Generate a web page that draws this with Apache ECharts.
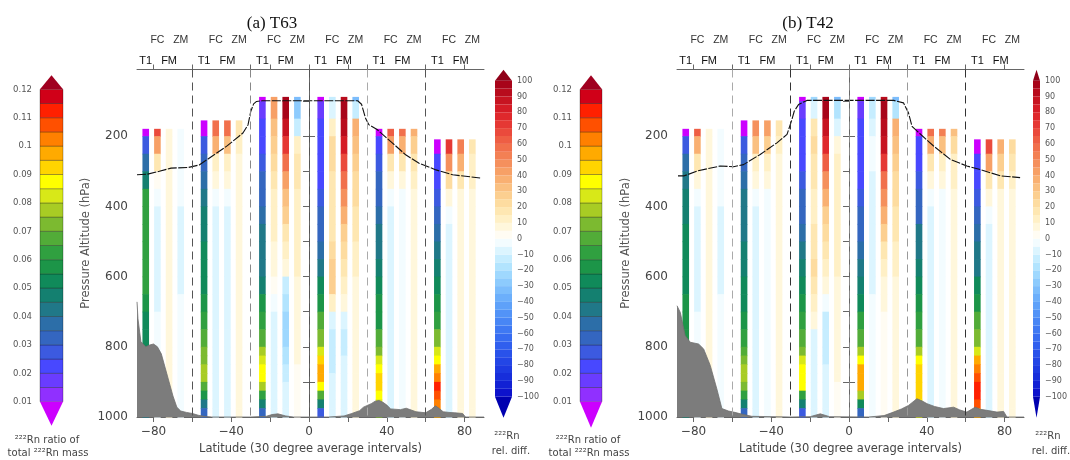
<!DOCTYPE html>
<html><head><meta charset="utf-8">
<script src="https://cdn.jsdelivr.net/npm/echarts@6/dist/echarts.min.js"></script>
<style>html,body{margin:0;padding:0;background:#fff}#c{width:1070px;height:460px}</style>
</head><body><div id="c"></div>
<script>
// ---------------- DATA ----------------
const BAND_STARTS = [-90, -60, -30, 0, 30, 60];          // 30-degree latitude bands
const COL_NAMES   = ['T1', 'FC', 'FM', 'ZM'];             // columns inside each band
const COL_OFFSETS = [6, 12, 18, 24];                      // column latitude offset from band start
const BAND_TOPS   = [179, 155, 88, 88, 179, 209];         // hPa, top of the columns in each band
const LEVEL_EDGES = [100,150,200,250,300,350,400,450,500,550,600,650,700,750,800,825,850,875,900,925,950,975,1000];
const Y_LABELS    = [200, 400, 600, 800, 1000];
const Y_TICKS     = [100,200,300,400,500,600,700,800,900,1000];
const LAT_LABELS  = [-80, -40, 0, 40, 80];
const LAT_TICKS   = [-80, -60, -40, -20, 0, 20, 40, 60, 80];
const TOP_TICKS   = [-80, -60, -30, -20, 0, 20, 30, 60, 80];
const RATIO_TICKS = [0.01,0.02,0.03,0.04,0.05,0.06,0.07,0.08,0.09,0.1,0.11,0.12];
const DIFF_TICKS  = [-100,-90,-80,-70,-60,-50,-40,-30,-20,-10,0,10,20,30,40,50,60,70,80,90,100];

// (a) T63 : 222Rn ratio of total mass (T1) and relative differences in % (FC, FM, ZM)
const A_T1 = [
 [0.008,0.026,0.038,0.047,0.061,0.062,0.062,0.062,0.061,0.061,0.058,0.054,0.052,0.051,0.050,0.049,0.048,0.047,0.046,0.045,0.044],
 [0.009,0.028,0.032,0.038,0.043,0.046,0.048,0.051,0.053,0.054,0.055,0.062,0.066,0.070,0.074,0.076,0.078,0.066,0.056,0.044,0.030],
 [0.009,0.018,0.022,0.023,0.026,0.030,0.032,0.036,0.040,0.042,0.044,0.048,0.055,0.062,0.068,0.076,0.082,0.087,0.086,0.076,0.064,0.048,0.030],
 [0.009,0.017,0.021,0.022,0.022,0.024,0.028,0.031,0.033,0.038,0.042,0.050,0.056,0.066,0.072,0.084,0.094,0.099,0.098,0.088,0.068,0.048,0.028],
 [0.008,0.022,0.026,0.031,0.033,0.036,0.041,0.043,0.047,0.050,0.055,0.059,0.068,0.074,0.082,0.086,0.092,0.094,0.087,0.080,0.070],
 [0.009,0.022,0.024,0.029,0.031,0.036,0.041,0.045,0.051,0.055,0.064,0.072,0.080,0.087,0.099,0.104,0.110,0.108,0.100,0.095]
];
const A_FC = [
 [65,40,15,4,-4,-6,-6,-7,-7,-6,-6,-5,-5,-5,-5,-4,-4,-4,-4,-4,-4],
 [58,35,14,5,-5,-8,-8,-8,-8,-8,-8,-8,-8,-8,-8,-8,-8,-8,-8,-8,-8],
 [40,42,32,25,20,16,14,12,10,8,6,2,-5,-8,-8,-8,-8,-8,-8,-8,-8,-8,-8],
 [-12,-8,10,20,20,18,15,15,15,20,25,25,10,-10,-12,-12,-12,-12,-10,-10,-10,-10,-8],
 [60,40,18,5,-5,-8,-8,-8,-8,-8,-8,-8,-8,-8,-8,-8,-8,-8,-8,-8,-8],
 [70,45,20,5,-5,-6,-6,-6,-6,-6,-6,-6,-6,-6,-6,-6,-6,-6,-6,-6]
];
const A_FM = [
 [8,8,7,6,6,6,6,5,5,5,5,5,5,5,5,5,5,5,5,5,5],
 [55,32,12,5,-4,-6,-6,-6,-6,-6,-6,-6,-6,-6,-6,-6,-6,-6,-6,-6,-6],
 [95,95,88,72,55,42,32,25,18,12,5,-15,-20,-22,-22,-20,-18,-15,-12,-10,-8,-8,-8],
 [92,95,90,80,68,55,45,35,28,22,18,12,5,-10,-12,-12,-10,-10,-8,-8,-8,-8,-8],
 [55,35,15,5,-3,-5,-5,-5,-5,-5,-5,-5,-5,-5,-5,-5,-5,-5,-5,-5,-5],
 [50,35,15,8,5,5,5,5,5,5,5,5,5,5,5,5,5,5,5,5]
];
const A_ZM = [
 [-4,-5,-5,-5,-5,-6,-6,-6,-6,-6,-5,-5,-5,-5,-5,-5,-5,-5,-5,-5,-5],
 [18,12,8,6,5,5,5,5,5,5,5,5,5,5,5,5,5,5,5,5,5],
 [-35,-30,-15,12,15,15,14,14,12,12,10,8,6,5,5,5,5,4,4,4,3,3,3],
 [-35,-15,35,32,28,24,20,18,15,12,10,8,8,6,6,5,5,5,5,5,5,5,5],
 [35,25,15,10,8,8,8,8,8,8,8,8,8,8,8,8,8,8,8,8,8],
 [15,12,10,8,6,6,6,6,6,6,6,6,6,6,6,6,6,6,6,6]
];

// (b) T42
const B_T1 = [
 [0.008,0.025,0.035,0.044,0.047,0.049,0.050,0.051,0.052,0.053,0.055,0.056,0.056,0.055,0.054,0.053,0.052,0.051,0.050,0.049,0.048],
 [0.009,0.026,0.031,0.037,0.041,0.043,0.044,0.045,0.047,0.050,0.053,0.056,0.060,0.066,0.072,0.077,0.079,0.072,0.060,0.046,0.032],
 [0.009,0.017,0.021,0.022,0.023,0.026,0.030,0.034,0.038,0.041,0.045,0.051,0.055,0.062,0.068,0.074,0.080,0.086,0.088,0.086,0.064,0.047,0.029],
 [0.009,0.017,0.021,0.022,0.022,0.023,0.026,0.030,0.032,0.036,0.041,0.045,0.052,0.060,0.068,0.078,0.088,0.096,0.098,0.096,0.078,0.052,0.030],
 [0.008,0.021,0.023,0.028,0.031,0.033,0.040,0.042,0.045,0.052,0.056,0.064,0.068,0.078,0.086,0.092,0.094,0.093,0.090,0.085,0.080],
 [0.009,0.022,0.023,0.026,0.031,0.036,0.041,0.044,0.052,0.056,0.066,0.072,0.084,0.098,0.104,0.108,0.112,0.112,0.106,0.098]
];
const B_FC = [
 [62,38,15,5,-4,-6,-6,-6,-6,-6,-6,-5,-5,-5,-5,-5,-5,-5,-5,-5,-5],
 [45,30,12,5,-4,-6,-6,-6,-6,-6,-6,-6,-6,-6,-6,-6,-6,-6,-6,-6,-6],
 [-22,-10,18,20,18,15,14,14,15,18,20,18,12,5,-8,-10,-10,-10,-8,-8,-8,-8,-8],
 [-22,-15,-8,-5,-5,-6,-8,-10,-10,-10,-8,-6,-5,-5,-5,-5,-5,-5,-5,-5,-5,-5,-5],
 [55,35,15,5,-5,-8,-8,-8,-8,-8,-8,-8,-8,-8,-8,-8,-8,-8,-8,-8,-8],
 [65,42,18,5,-5,-6,-6,-6,-6,-6,-6,-6,-6,-6,-6,-6,-6,-6,-6,-6]
];
const B_FM = [
 [8,8,7,6,6,6,6,5,5,5,5,5,5,5,5,5,5,5,5,5,5],
 [42,28,12,5,-3,-5,-5,-5,-5,-5,-5,-5,-5,-5,-5,-5,-5,-5,-5,-5,-5],
 [95,95,88,75,60,45,35,28,22,16,10,5,-5,-12,-15,-15,-12,-10,-8,-8,-6,-6,-6],
 [92,95,92,85,72,58,45,35,25,18,12,8,5,3,2,2,2,2,2,2,2,2,2],
 [50,32,14,5,-3,-5,-5,-5,-5,-5,-5,-5,-5,-5,-5,-5,-5,-5,-5,-5,-5],
 [38,28,15,8,5,5,5,5,5,5,5,5,5,5,5,5,5,5,5,5]
];
const B_ZM = [
 [-4,-5,-5,-5,-5,-6,-6,-6,-6,-6,-5,-5,-5,-5,-5,-5,-5,-5,-5,-5,-5],
 [15,12,8,6,5,5,5,5,5,5,5,5,5,5,5,5,5,5,5,5,5],
 [-35,-20,-10,8,12,14,14,14,14,12,10,8,6,5,5,5,5,5,5,4,4,4,4],
 [-35,-20,35,30,26,22,20,18,15,12,10,8,6,5,5,5,5,5,5,5,5,5,5],
 [30,22,14,10,8,8,8,8,8,8,8,8,8,8,8,8,8,8,8,8,8],
 [20,15,10,8,6,6,6,6,6,6,6,6,6,6,6,6,6,6,6,6]
];

// surface pressure (topography) and tropopause
const TOPO_A_LAT = [-88.5,-88,-86.5,-84,-82,-80,-78,-76,-74,-72,-70,-68,-66,-63,-60,-57,-54,-50,-30,-22,-19,-16,-12,-8,10,18,22,26,28,32,34,36,38,40,42,47,50,55,60,63,65,67,69,72,75,79,80.5,90];
const TOPO_A_P   = [672,720,785,800,795,792,800,820,860,900,940,972,983,987,990,995,998,1000,1000,998,993,991,997,1000,1000,997,990,982,972,962,955,953,958,966,977,979,975,985,988,978,968,976,985,987,988,990,1000,1000];
const TOPO_B_LAT = [-88.5,-86.8,-84.3,-81.7,-77.4,-74.8,-71.4,-68,-65.4,-62,-59.4,-54.3,-50,-30,-20,-14.8,-10,10,18,22.9,27,30.6,34.9,37.5,40.1,44,48.6,53.8,57,60.6,64.9,67.5,70.9,76.1,79.5,81.2,90];
const TOPO_B_P   = [683,702,768,787,792,806,853,920,976,983,986,993,998,1000,999,991,999,1000,996,986,977,967,948,954,962,970,976,972,980,986,972,978,981,986,984,1000,1000];
const TROP_A_LAT = [-88.5,-83,-77,-71,-62,-56.5,-48.8,-42,-34,-31.4,-30,-28.5,-27,-24,25,27,29,30.7,35,42.8,49.7,56.6,65.3,73.9,88];
const TROP_A_P   = [310,308,300,291,289,282,253,227,191,168,130,108,101,99,99,109,148,167,181,219,253,277,296,310,319];
const TROP_B_LAT = [-88,-84.8,-78,-66.3,-59.4,-54.3,-45.7,-37.1,-31.9,-29.4,-28.2,-26,-21.7,22.9,28,30.6,32.4,34.9,43.5,52.1,60.6,67.5,77.8,88];
const TROP_B_P   = [313,313,299,285,287,281,252,219,195,153,129,110,98,98,105,134,172,185,228,266,285,295,313,318];

// ---------------- STYLE ----------------
const FONT = 'DejaVu Sans';
const COL_HALF = 1.7;
const RATIO_COLORS = ['#9030ff','#6a3cff','#4848ff','#3c5ae0','#3466c0','#2c6ea8','#207888','#148070','#108a5a','#1c9548',
  '#30a040','#52ac38','#7cba30','#a8cc24','#d8e818','#ffff00','#ffd400','#ffaa00','#ff8000','#ff5000','#ff2000','#d00018'];
const RATIO_UNDER = '#cc00ff', RATIO_OVER = '#a00020';
const DIFF_ANCHORS = ['#0a0ac8','#1428d8','#2040e4','#2c58ec','#3a72f2','#4c8cf6','#64a8fa','#84c4fc','#a8dffe','#d0f2ff','#ffffff',
  '#fff4d0','#fde2a8','#fbc888','#f8a86a','#f48858','#f06848','#e84038','#dc2028','#c0101e','#a00018'];
const DIFF_UNDER = '#0000b0', DIFF_OVER = '#900018';

function ratioColor(v){
  if (v < 0.01) return RATIO_UNDER;
  if (v >= 0.12) return RATIO_OVER;
  return RATIO_COLORS[Math.min(21, Math.floor((v - 0.01) / 0.005 + 1e-9))];
}
function hex(h){ return [parseInt(h.substr(1,2),16), parseInt(h.substr(3,2),16), parseInt(h.substr(5,2),16)]; }
function diffRaw(v){
  let t = (v + 100) / 10; let i = Math.max(0, Math.min(19, Math.floor(t))); const f = t - i;
  const a = hex(DIFF_ANCHORS[i]), b = hex(DIFF_ANCHORS[i+1]);
  return 'rgb(' + a.map((c,k)=>Math.round(c + (b[k]-c)*f)).join(',') + ')';
}
function diffColor(v){
  if (v >= 100) return DIFF_OVER;
  if (v < -100) return DIFF_UNDER;
  return diffRaw(Math.floor(v/5)*5 + 2.5);
}

function buildCells(T1, FC, FM, ZM){
  const sets = [T1, FC, FM, ZM]; const out = [];
  BAND_STARTS.forEach((b0, bi) => {
    const top = BAND_TOPS[bi];
    const edges = [top].concat(LEVEL_EDGES.filter(e => e > top));
    sets.forEach((set, ci) => {
      const lat = b0 + COL_OFFSETS[ci]; const vals = set[bi];
      for (let k = 0; k < edges.length - 1 && k < vals.length; k++)
        out.push([vals[k], lat - COL_HALF, lat + COL_HALF, edges[k], edges[k+1], ci === 0 ? 0 : 1]);
    });
  });
  return out;
}
const zip = (a, b) => a.map((x, i) => [x, b[i]]);
const nameAt = {};
BAND_STARTS.forEach(b0 => COL_OFFSETS.forEach((o, ci) => { nameAt[b0 + o] = COL_NAMES[ci]; }));
const lowRow = [], upRow = [];
BAND_STARTS.forEach(b0 => { lowRow.push(b0 + COL_OFFSETS[0], b0 + COL_OFFSETS[2]); upRow.push(b0 + COL_OFFSETS[1], b0 + COL_OFFSETS[3]); });

const AX = '#666', TXT = '#444';
const GRIDS = [
  {left:137, top:69.5, width:347, height:348.8},
  {left:677, top:69.5, width:347, height:348.8},
  {left:40,  top:89.3, width:23, height:312.4},
  {left:495, top:80.7, width:17, height:316},
  {left:580, top:89.3, width:22, height:312.4},
  {left:1033,top:80.7, width:17, height:316}
];

const xAxes = [], yAxes = [];
function mainAxes(g){
  const base = {gridIndex:g, type:'value', min:-88.5, max:90, splitLine:{show:false}};
  const xi = xAxes.length;
  xAxes.push(Object.assign({}, base, {position:'bottom',
    axisLine:{show:true, lineStyle:{color:AX}},
    axisTick:{show:true, customValues:LAT_TICKS, length:5, lineStyle:{color:AX}},
    axisLabel:{customValues:LAT_LABELS, formatter:v=> v<0 ? '\u2212'+(-v) : String(v), fontFamily:FONT, fontSize:12, color:TXT, margin:9},
    name:'Latitude (30 degree average intervals)', nameLocation:'middle', nameGap:26,
    nameTextStyle:{fontFamily:FONT, fontSize:11.5, color:TXT}}));
  xAxes.push(Object.assign({}, base, {position:'top',
    axisLine:{show:true, lineStyle:{color:AX}},
    axisTick:{show:true, customValues:TOP_TICKS, length:5, lineStyle:{color:AX}},
    axisLabel:{show:false}}));
  xAxes.push(Object.assign({}, base, {position:'top', axisLine:{show:false}, axisTick:{show:false},
    axisLabel:{customValues:lowRow, formatter:v=>nameAt[v]||'', fontFamily:'Liberation Sans', fontSize:11, color:'#111', margin:3}}));
  xAxes.push(Object.assign({}, base, {position:'top', offset:21, axisLine:{show:false}, axisTick:{show:false},
    axisLabel:{customValues:upRow, formatter:v=>nameAt[v]||'', fontFamily:'Liberation Sans', fontSize:10.5, color:'#333', margin:3}}));
  const yi = yAxes.length;
  const yb = {gridIndex:g, type:'value', inverse:true, min:10, max:1000, splitLine:{show:false}};
  yAxes.push(Object.assign({}, yb, {position:'left',
    axisLine:{show:true, lineStyle:{color:AX}},
    axisTick:{show:true, customValues:Y_TICKS, length:6, lineStyle:{color:AX}},
    axisLabel:{customValues:Y_LABELS, formatter:v=>String(v), fontFamily:FONT, fontSize:12, color:TXT, margin:9},
    name:'Pressure Altitude (hPa)', nameLocation:'middle', nameGap:45, nameRotate:90,
    nameTextStyle:{fontFamily:FONT, fontSize:11.5, color:'#555'}}));
  yAxes.push(Object.assign({}, yb, {position:'right',
    axisLine:{show:true, lineStyle:{color:AX}},
    axisTick:{show:true, inside:true, customValues:[100,300,500,700], length:5, lineStyle:{color:AX}},
    axisLabel:{show:false}}));
  yAxes.push(Object.assign({}, yb, {position:'right', axisLine:{show:false},
    axisTick:{show:true, customValues:[200,900], length:6, lineStyle:{color:AX}},
    axisLabel:{show:false}}));
  return {xi, yi};
}
const PA = mainAxes(0), PB = mainAxes(1);

function cbAxes(g, kind){
  const xi = xAxes.length;
  xAxes.push({gridIndex:g, type:'value', min:0, max:1, show:false});
  const yi = yAxes.length;
  if (kind === 'ratio') {
    yAxes.push({gridIndex:g, type:'value', min:0.01, max:0.12, position:'left', splitLine:{show:false},
      axisLine:{show:false}, axisTick:{show:false},
      axisLabel:{customValues:RATIO_TICKS, formatter:v=>String(Math.round(v*100)/100), fontFamily:FONT, fontSize:8.5, color:'#555', margin:8}});
  } else {
    yAxes.push({gridIndex:g, type:'value', min:-100, max:100, position:'right', splitLine:{show:false},
      axisLine:{show:false}, axisTick:{show:false},
      axisLabel:{customValues:DIFF_TICKS, formatter:v=> v<0 ? '\u2212'+(-v) : String(v), fontFamily:FONT, fontSize:8, color:'#555', margin:5}});
  }
  return {xi, yi};
}
const CRA = cbAxes(2,'ratio'), CDA = cbAxes(3,'diff'), CRB = cbAxes(4,'ratio'), CDB = cbAxes(5,'diff');

function cellSeries(ax, data){
  return {type:'custom', xAxisIndex:ax.xi, yAxisIndex:ax.yi, data, z:2, silent:true, animation:false,
    encode:{x:[1,2], y:[3,4]},
    renderItem(params, api){
      const v = api.value(0), kind = api.value(5);
      const a = api.coord([api.value(1), api.value(3)]);
      const b = api.coord([api.value(2), api.value(4)]);
      return {type:'rect', shape:{x:a[0], y:a[1], width:b[0]-a[0], height:b[1]-a[1]+0.6},
        style:{fill: kind === 0 ? ratioColor(v) : diffColor(v)}};
    }};
}
function topoSeries(ax, lat, p){
  return {type:'line', xAxisIndex:ax.xi, yAxisIndex:ax.yi, data:zip(lat,p), symbol:'none', z:3, silent:true, animation:false,
    lineStyle:{color:'#707070', width:0.8}, areaStyle:{color:'#7c7c7c', opacity:1, origin:'end'}};
}
function tropSeries(ax, lat, p, dashColors){
  return {type:'line', xAxisIndex:ax.xi, yAxisIndex:ax.yi, data:zip(lat,p), symbol:'none', z:4, silent:true, animation:false,
    lineStyle:{color:'#111', width:1.1, type:[9,1.5]},
    markLine:{symbol:['none','none'], silent:true, animation:false, label:{show:false},
      data: BAND_STARTS.slice(1).map((x,i)=>({xAxis:x, lineStyle:{color:dashColors[i], type:[8,5], width:1}}))}};
}
function cbSeries(ax, items, colorFn, triTop, triBot, stroke){
  return {type:'custom', xAxisIndex:ax.xi, yAxisIndex:ax.yi, data:items, clip:false, silent:true, animation:false, z:2,
    encode:{x:[1,2], y:[3,4]},
    renderItem(params, api){
      const t = api.value(5), col = colorFn(api.value(0));
      const a = api.coord([0, api.value(3)]), b = api.coord([1, api.value(4)]);
      if (t === 0) return {type:'rect', shape:{x:a[0], y:b[1], width:b[0]-a[0], height:a[1]-b[1]},
        style:{fill:col, stroke:stroke||null, lineWidth:stroke?0.5:0}};
      const mid = (a[0]+b[0])/2;
      const tip = t > 0 ? a[1]-triTop : a[1]+triBot;
      return {type:'polygon', shape:{points:[[a[0],a[1]],[b[0],a[1]],[mid,tip]]}, style:{fill:col}};
    }};
}
const ratioItems = [];
for (let i = 0; i < 22; i++){ const lo = 0.01 + 0.005*i; ratioItems.push([lo+0.0025, 0, 1, lo, lo+0.005, 0]); }
ratioItems.push([0.13,0,1,0.12,0.12,1], [0.005,0,1,0.01,0.01,-1]);
const diffItems = [];
for (let lo = -100; lo < 100; lo += 5) diffItems.push([lo+2.5, 0, 1, lo, lo+5, 0]);
diffItems.push([101,0,1,100,100,1], [-101,0,1,-100,-100,-1]);

const series = [
  cellSeries(PA, buildCells(A_T1, A_FC, A_FM, A_ZM)),
  topoSeries(PA, TOPO_A_LAT, TOPO_A_P),
  tropSeries(PA, TROP_A_LAT, TROP_A_P, ['#555','#888','#555','#aaa','#555']),
  cellSeries(PB, buildCells(B_T1, B_FC, B_FM, B_ZM)),
  topoSeries(PB, TOPO_B_LAT, TOPO_B_P),
  tropSeries(PB, TROP_B_LAT, TROP_B_P, ['#aaa','#333','#888','#999','#333']),
  cbSeries(CRA, ratioItems, ratioColor, 14, 24, 'rgba(0,0,0,0.55)'),
  cbSeries(CDA, diffItems, diffColor, 11, 21, null),
  cbSeries(CRB, ratioItems, ratioColor, 14, 26, 'rgba(0,0,0,0.55)'),
  cbSeries(CDB, diffItems, diffColor, 11, 21, null)
];

function txt(x, y, text, font, fill, align){
  return {type:'text', x, y, silent:true,
    style:{text, font, fill, align:align||'center', textAlign:align||'center', verticalAlign:'middle', textVerticalAlign:'middle'}};
}
const capFont = '10px "DejaVu Sans"';
const graphic = [
  txt(272, 24, '(a) T63', '17px "Liberation Serif"', '#111'),
  txt(808, 24, '(b) T42', '17px "Liberation Serif"', '#111'),
  txt(47, 440, '\u00b2\u00b2\u00b2Rn ratio of', capFont, TXT),
  txt(48, 453, 'total \u00b2\u00b2\u00b2Rn mass', capFont, TXT),
  txt(507, 436, '\u00b2\u00b2\u00b2Rn', capFont, TXT),
  txt(511, 451, 'rel. diff.', capFont, TXT),
  txt(588, 440, '\u00b2\u00b2\u00b2Rn ratio of', capFont, TXT),
  txt(589, 453, 'total \u00b2\u00b2\u00b2Rn mass', capFont, TXT),
  txt(1048, 436, '\u00b2\u00b2\u00b2Rn', capFont, TXT),
  txt(1051, 451, 'rel. diff.', capFont, TXT)
];

const chart = echarts.init(document.getElementById('c'));
chart.setOption({
  animation:false, backgroundColor:'#fff',
  grid: GRIDS.map(g => Object.assign({show:false, containLabel:false}, g)),
  xAxis: xAxes, yAxis: yAxes, series, graphic
});
</script></body></html>
